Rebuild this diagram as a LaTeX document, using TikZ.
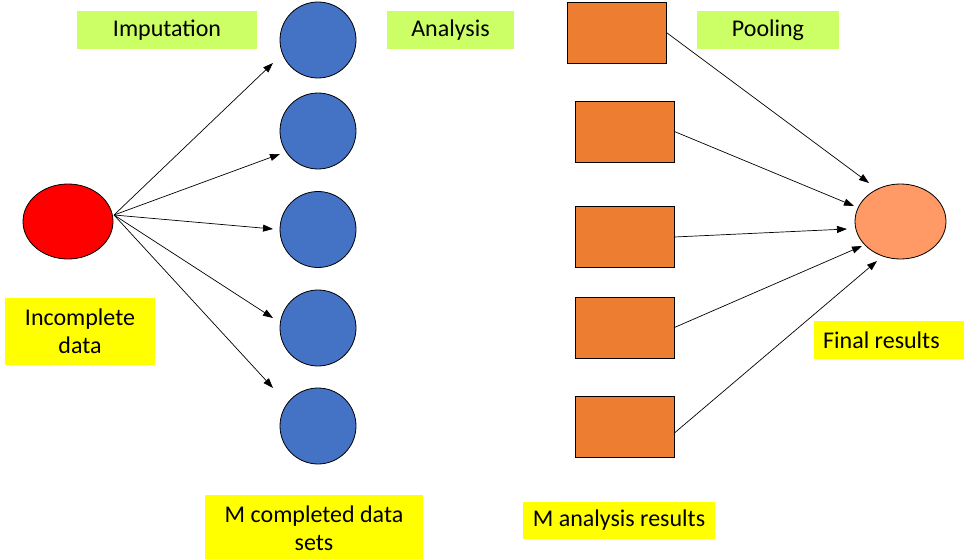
\documentclass[tikz,border=0pt]{standalone}
\usepackage{fontspec}
\setmainfont{Carlito}
\usetikzlibrary{arrows.meta,calc,shapes.geometric}
\definecolor{lblgreen}{HTML}{CCFF66}
\definecolor{lblyellow}{HTML}{FFFF00}
\definecolor{dsblue}{HTML}{4472C4}
\definecolor{resorange}{HTML}{ED7D31}
\definecolor{finalorange}{HTML}{FF9966}
\begin{document}
\begin{tikzpicture}[x=1pt,y=-1pt,
  lbltext/.style={inner sep=0pt, font=\fontsize{24}{28}\selectfont, align=center},
  gbox/.style={lbltext, fill=lblgreen},
  ybox/.style={lbltext, fill=lblyellow},
  ds/.style={circle, draw=black, fill=dsblue, line width=0.8pt, minimum size=76pt, inner sep=0pt},
  res/.style={rectangle, draw=black, fill=resorange, line width=0.8pt, minimum width=99pt, minimum height=61pt, inner sep=0pt},
  oval/.style={ellipse, draw=black, line width=0.8pt, inner sep=0pt},
  arr/.style={-{Triangle[length=10pt,width=7pt]}, line width=0.7pt}]
\useasboundingbox (0,0) rectangle (964,559);
% labels
\node[gbox, minimum width=180pt, minimum height=38pt] (imp) at (167,30) {Imputation};
\node[gbox, minimum width=127pt, minimum height=38pt] (ana) at (450.5,30) {Analysis};
\node[gbox, minimum width=142pt, minimum height=38pt] (pool) at (768,30) {Pooling};
\node[ybox, minimum width=150pt, minimum height=67pt] (inc) at (80,331.5) {Incomplete\\data};
\node[ybox, minimum width=218pt, minimum height=67pt] (mcd) at (314,528.5) {M completed data\\sets};
\node[ybox, minimum width=152pt, minimum height=38pt] (finbox) at (890,340) {};
\node[lbltext, anchor=west] (fin) at (823,340) {Final results};
\node[ybox, minimum width=192pt, minimum height=37pt] (mar) at (619,520.5) {M analysis results};
% shapes
\node[oval, fill=red, minimum width=90pt, minimum height=75pt] (src) at (68,221.5) {};
\node[ds] (c1) at (318,40) {};
\node[ds] (c2) at (318,131) {};
\node[ds] (c3) at (318,229.5) {};
\node[ds] (c4) at (318,328) {};
\node[ds] (c5) at (318,426) {};
\node[res] (r1) at (616.5,32.5) {};
\node[res] (r2) at (624.5,131.5) {};
\node[res] (r3) at (624.5,237) {};
\node[res] (r4) at (624.5,327.5) {};
\node[res] (r5) at (624.5,426.5) {};
\node[oval, fill=finalorange, minimum width=91pt, minimum height=75pt] (final) at (900.5,221.5) {};
% connector end points
\coordinate (s0) at (114,215);
\coordinate (t1) at (273,63);
\coordinate (t2) at (280,154);
\coordinate (t3) at (273,229);
\coordinate (t4) at (273,318);
\coordinate (t5) at (273,388);
\coordinate (p1) at (869,183);
\coordinate (p2) at (854,206);
\coordinate (p3) at (847,229);
\coordinate (p4) at (862,246);
\coordinate (p5) at (877,261);
\coordinate (q5) at ($(r5.east)+(0,6.5)$);
% connectors
\draw[arr] (s0) -- (t1);
\draw[arr] (s0) -- (t2);
\draw[arr] (s0) -- (t3);
\draw[arr] (s0) -- (t4);
\draw[arr] (s0) -- (t5);
\draw[arr] (r1.east) -- (p1);
\draw[arr] (r2.east) -- (p2);
\draw[arr] (r3.east) -- (p3);
\draw[arr] (r4.east) -- (p4);
\draw[arr] (q5) -- (p5);
\end{tikzpicture}
\end{document}
